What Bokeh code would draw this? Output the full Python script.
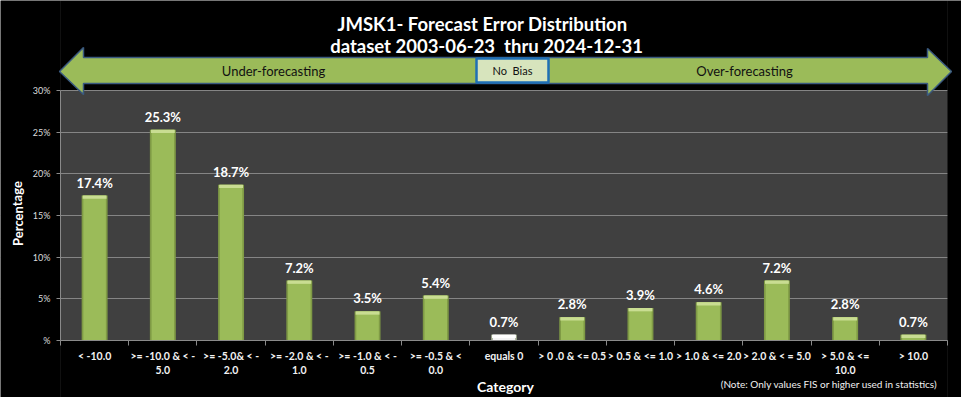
from bokeh.plotting import figure
from bokeh.models import FixedTicker, ColumnDataSource
from bokeh.core.properties import value
from bokeh.embed import file_html
from bokeh.resources import INLINE

# ---------------- data ----------------
categories = [
    "< -10.0",
    ">= -10.0 & < -\n5.0",
    ">= -5.0& < -\n2.0",
    ">= -2.0 & < -\n1.0",
    ">= -1.0 & < -\n0.5",
    ">= -0.5 & <\n0.0",
    "equals 0",
    "> 0 .0 & <= 0.5",
    "> 0.5 & <= 1.0",
    "> 1.0 & <= 2.0",
    "> 2.0 & < = 5.0",
    "> 5.0 & <=\n10.0",
    "> 10.0",
]
percent = [17.4, 25.3, 18.7, 7.2, 3.5, 5.4, 0.7, 2.8, 3.9, 4.6, 7.2, 2.8, 0.7]
y_ticks = [0, 5, 10, 15, 20, 25, 30]
y_tick_labels = ["%", "5%", "10%", "15%", "20%", "25%", "30%"]
title_lines = ["JMSK1- Forecast Error Distribution", "dataset 2003-06-23\u00a0\u00a0thru 2024-12-31"]
band_labels = ["Under-forecasting", "No\u00a0\u00a0Bias", "Over-forecasting"]
x_title = "Category"
y_title = "Percentage"
note = "(Note: Only values FIS or higher used in statistics)"
Y_MAX = 30

# ---------------- layout ----------------
FONT = value("Lato")
W, H = 961, 397
n = len(categories)
# plot area in canvas pixels
PL, PR, PB, PT = 60, 947, 340, 90
sx = (PR - PL) / n
sy = (PB - PT) / Y_MAX
x_start, x_end = -PL / sx, n + (W - PR) / sx
y_start, y_end = -(H - PB) / sy, Y_MAX + PT / sy

def px_x(ix):
    return (ix - PL) / sx
def px_y(iy):
    return (PB - iy) / sy

centers = [i + 0.5 for i in range(n)]
bounds = [float(i) for i in range(n + 1)]

p = figure(width=W, height=H, x_range=(x_start, x_end), y_range=(y_start, y_end),
           output_backend="svg", toolbar_location=None, title=None,
           min_border=0, min_border_left=0, min_border_right=0,
           min_border_top=0, min_border_bottom=0,
           background_fill_color="#404040", border_fill_color="black",
           outline_line_color=None)

# grid
p.xgrid.grid_line_color = None
p.ygrid.ticker = FixedTicker(ticks=y_ticks)
p.ygrid.grid_line_color = "#858585"
p.ygrid.grid_line_width = 1

# black surround outside the plot area (covers grid overhang)
cov = dict(
    left=[x_start, n, 0, 0],
    right=[0, x_end, n, n],
    bottom=[y_start, y_start, px_y(PT - 0.5), y_start],
    top=[y_end, y_end, y_end, 0],
)
p.quad(left=cov["left"], right=cov["right"], bottom=cov["bottom"], top=cov["top"],
       fill_color="black", line_color=None)

# x axis
xa = p.xaxis[0]
xa.fixed_location = 0
xa.bounds = (0, n)
xa.ticker = FixedTicker(ticks=centers, minor_ticks=bounds)
xa.major_label_overrides = {c: lab for c, lab in zip(centers, categories)}
xa.major_tick_line_color = None
xa.major_tick_out = 5
xa.major_tick_in = 0
xa.minor_tick_out = 5
xa.minor_tick_in = 0
xa.minor_tick_line_color = "#8a8a8a"
xa.axis_line_color = "#8a8a8a"
xa.major_label_standoff = 4
xa.major_label_text_font = "Lato"
xa.major_label_text_font_size = "10.5px"
xa.major_label_text_font_style = "bold"
xa.major_label_text_color = "#f2f2f2"

# y axis
ya = p.yaxis[0]
ya.fixed_location = 0
ya.bounds = (0, Y_MAX)
ya.ticker = FixedTicker(ticks=y_ticks)
ya.major_label_overrides = {t: lab for t, lab in zip(y_ticks, y_tick_labels)}
ya.major_tick_out = 4
ya.major_tick_in = 0
ya.minor_tick_line_color = None
ya.major_tick_line_color = "#8a8a8a"
ya.axis_line_color = "#8a8a8a"
ya.major_label_standoff = 6
ya.major_label_text_font = "Lato"
ya.major_label_text_font_size = "9px"
ya.major_label_text_color = "#dddddd"

# bars
is_zero = [c == "equals 0" for c in categories]
src = ColumnDataSource(dict(
    x=centers, top=percent,
    outer=["#9aa38a" if z else "#7f9a45" for z in is_zero],
    inner=["#f4f4f4" if z else "#9bbb59" for z in is_zero],
    cap=["#ffffff" if z else "#c9dd92" for z in is_zero],
    cap_bottom=[max(v - 0.4, 0) for v in percent],
    lab=[f"{v:.1f}%" for v in percent],
))
p.vbar(x="x", top="top", bottom=0, width=0.38, source=src, fill_color="outer", line_color=None)
p.vbar(x="x", top="top", bottom=0, width=0.33, source=src, fill_color="inner", line_color=None)
p.vbar(x="x", top="top", bottom="cap_bottom", width=0.35, source=src, fill_color="cap", line_color=None)
p.text(x="x", y="top", text="lab", source=src, text_align="center", text_baseline="middle",
       y_offset=-13, text_font_size="13px", text_font_style="bold", text_color="white",
       text_font=FONT)

# double-headed arrow banner
arrow_px = [(59, 71), (83, 47), (83, 57), (927, 57), (927, 48), (951, 71),
            (927, 95), (927, 83), (83, 83), (83, 94)]
p.patch(x=[px_x(a) for a, b in arrow_px], y=[px_y(b) for a, b in arrow_px],
        fill_color="#9bbb59", line_color="#3a5a80", line_width=1.5)
p.quad(left=[px_x(476)], right=[px_x(548)], top=[px_y(58)], bottom=[px_y(82)],
       fill_color="#d7e4bd", line_color="#1f6fb5", line_width=2.5)

def T(text, ix, iy, size, style="normal", color="white", align="center",
      baseline="middle", angle=0.0):
    p.text(x=[px_x(ix)], y=[px_y(iy)], text=[text], text_align=align,
           text_baseline=baseline, text_font=FONT, text_font_size=size,
           text_font_style=style, text_color=color, angle=angle)

T(title_lines[0], 482, 23, "18.5px", "bold")
T(title_lines[1], 486, 45, "18.5px", "bold")
T(band_labels[0], 273, 70, "13px", color="#111111")
T(band_labels[1], 512, 70, "11px", color="#111111")
T(band_labels[2], 744, 70, "13px", color="#111111")
T(y_title, 17, 213, "13px", "bold", angle=1.5708)
T(x_title, 505, 386, "14px", "bold")
T(note, 937, 383, "10px", color="#f0f0f0", align="right")

open("out.html", "w").write(file_html(p, INLINE))
